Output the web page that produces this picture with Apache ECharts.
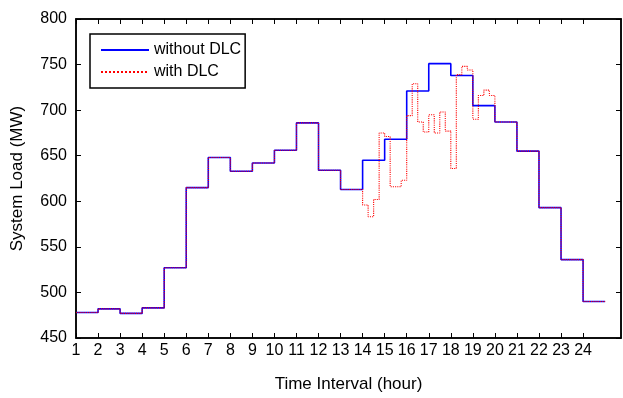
<!DOCTYPE html>
<html>
<head>
<meta charset="utf-8">
<script src="https://cdn.jsdelivr.net/npm/echarts@6/dist/echarts.min.js"></script>
<style>
  html, body { margin: 0; padding: 0; background: #fff; }
  #chart { width: 623px; height: 398px; }
</style>
</head>
<body>
<div id="chart"></div>
<script>
const hourTicks = [1, 2, 3, 4, 5, 6, 7, 8, 9, 10, 11, 12, 13, 14, 15, 16, 17, 18, 19, 20, 21, 22, 23, 24]
const loadTicks = [450, 500, 550, 600, 650, 700, 750, 800]

// hourly load, each value holds from hour h to h+1
const withoutDlc = [478, 482, 477, 483, 527, 615, 648, 633, 642, 656, 686, 634, 613, 645, 668, 721, 751, 738, 705, 687, 655, 593, 536, 490]

// with DLC: same as hourly up to hour 13, then 15-minute steps 14:00 - 19:45
const dlcQuarterStart = 14
const dlcQuarters = [
  596, 583, 602, 675,
  671, 616, 616, 623,
  694, 729, 687, 676,
  695, 675, 698, 677,
  636, 739, 748, 744,
  690, 716, 722, 716,
]

const blueData = withoutDlc.map((v, i) => [hourTicks[i], v])
blueData.push([25, withoutDlc[withoutDlc.length - 1]])

const redData = []
withoutDlc.forEach((v, i) => {
  const h = hourTicks[i]
  if (h < dlcQuarterStart || h >= dlcQuarterStart + dlcQuarters.length / 4) {
    redData.push([h, v])
  } else if (h === dlcQuarterStart) {
    dlcQuarters.forEach((q, k) => redData.push([dlcQuarterStart + k * 0.25, q]))
  }
})
redData.push([25, withoutDlc[withoutDlc.length - 1]])

const font = 'Liberation Sans, Arial, sans-serif'
const chart = echarts.init(document.getElementById('chart'))

chart.setOption({
  animation: false,
  grid: {
    left: 76, right: 2, top: 19, bottom: 56,
    show: true, borderColor: '#000', borderWidth: 1.5,
  },
  legend: {
    data: ['without DLC', 'with DLC'],
    orient: 'vertical',
    left: 90,
    top: 34,
    padding: [8, 4, 8, 10],
    itemWidth: 48,
    itemHeight: 14,
    itemGap: 6,
    itemStyle: { opacity: 0 },
    borderColor: '#000',
    borderWidth: 1.5,
    textStyle: { fontFamily: font, fontSize: 16, color: '#000' },
  },
  xAxis: [
    {
      type: 'value',
      min: 1,
      max: 25.72,
      interval: 1,
      name: 'Time Interval (hour)',
      nameLocation: 'middle',
      nameGap: 38,
      nameTextStyle: { fontFamily: font, fontSize: 17, color: '#000' },
      axisLine: { lineStyle: { color: '#000', width: 1.5 } },
      axisTick: { inside: true, length: 5, customValues: hourTicks, lineStyle: { color: '#000' } },
      axisLabel: { customValues: hourTicks, fontFamily: font, fontSize: 16, color: '#000', margin: 5 },
      splitLine: { show: false },
    },
    {
      type: 'value',
      position: 'top',
      min: 1,
      max: 25.72,
      interval: 1,
      axisLine: { lineStyle: { color: '#000', width: 1.5 } },
      axisTick: { inside: true, length: 5, customValues: hourTicks, lineStyle: { color: '#000' } },
      axisLabel: { show: false },
      splitLine: { show: false },
    },
  ],
  yAxis: [
    {
      type: 'value',
      min: 450,
      max: 800,
      interval: 50,
      name: 'System Load (MW)',
      nameLocation: 'middle',
      nameGap: 50,
      nameTextStyle: { fontFamily: font, fontSize: 17, color: '#000' },
      axisLine: { show: true, lineStyle: { color: '#000', width: 1.5 } },
      axisTick: { show: true, inside: true, length: 5, customValues: loadTicks, lineStyle: { color: '#000' } },
      axisLabel: { fontFamily: font, fontSize: 16, color: '#000', margin: 9 },
      splitLine: { show: false },
    },
    {
      type: 'value',
      position: 'right',
      min: 450,
      max: 800,
      interval: 50,
      axisLine: { show: true, lineStyle: { color: '#000', width: 1.5 } },
      axisTick: { show: true, inside: true, length: 5, lineStyle: { color: '#000' } },
      axisLabel: { show: false },
      splitLine: { show: false },
    },
  ],
  series: [
    {
      name: 'without DLC',
      type: 'line',
      step: 'end',
      data: blueData,
      symbol: 'none',
      lineStyle: { color: '#0000ff', width: 1.6 },
      itemStyle: { color: '#0000ff' },
    },
    {
      name: 'with DLC',
      type: 'line',
      step: 'end',
      data: redData,
      symbol: 'none',
      lineStyle: { color: '#ff0000', width: 1.1, type: 'dotted' },
      itemStyle: { color: '#ff0000' },
    },
  ],
})
</script>
</body>
</html>
